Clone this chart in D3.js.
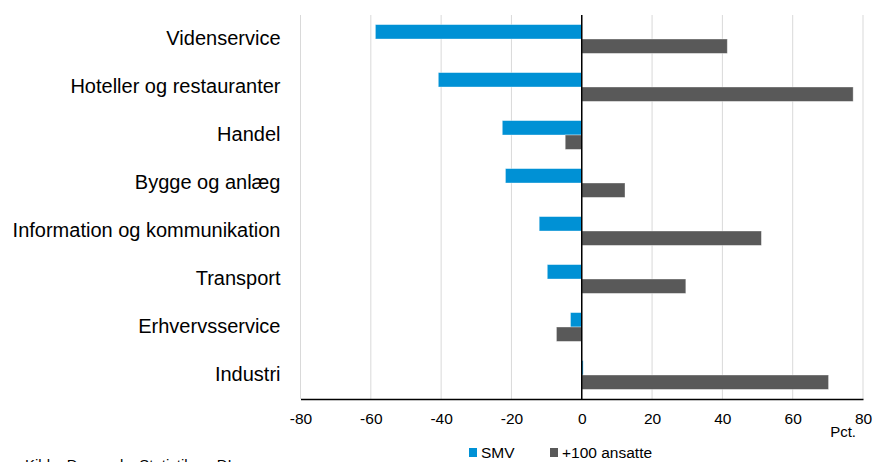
<!DOCTYPE html>
<html>
<head>
<meta charset="utf-8">
<script src="https://cdn.jsdelivr.net/npm/d3@7"></script>
<style>
  body { margin: 0; background: #fff; }
  text { font-family: "Liberation Sans", Arial, sans-serif; fill: #000; }
</style>
</head>
<body>
<svg width="874" height="462"></svg>
<script>
// categories top to bottom
var categories = ["Videnservice", "Hoteller og restauranter", "Handel", "Bygge og anlæg",
    "Information og kommunikation", "Transport", "Erhvervsservice", "Industri"];
var series = ["SMV", "+100 ansatte"];
var smv = [-58.7, -40.8, -22.6, -21.7, -12.1, -9.8, -3.2, 0.4];
var large = [41.4, 77.2, -4.7, 12.3, 51.1, 29.6, -7.2, 70.2];
var xTicks = [-80, -60, -40, -20, 0, 20, 40, 60, 80];
var colors = ["#0091d5", "#595959"];

var svg = d3.select("svg");
var margin = { top: 15, left: 300.5, right: 11, bottom: 63 };
var width = 874 - margin.left - margin.right;
var height = 462 - margin.top - margin.bottom;

var g = svg.append("g")
    .attr("transform", "translate(" + margin.left + "," + margin.top + ")");

var x = d3.scaleLinear().domain([-80, 80]).range([0, width]);
var y = d3.scaleBand().domain(categories).range([0, height]).paddingInner(0.4).paddingOuter(0.2);
var ySub = d3.scaleBand().domain(series).range([0, y.bandwidth()]);

// vertical gridlines
g.selectAll(".grid")
    .data(xTicks)
    .enter().append("line")
    .attr("x1", function(d) { return x(d); })
    .attr("x2", function(d) { return x(d); })
    .attr("y1", 0)
    .attr("y2", height)
    .attr("stroke", "#d9d9d9")
    .attr("stroke-width", 1);

// bars
var rows = categories.map(function(c, i) {
    return { cat: c, values: [smv[i], large[i]] };
});
var grp = g.selectAll(".row")
    .data(rows)
    .enter().append("g")
    .attr("transform", function(d) { return "translate(0," + y(d.cat) + ")"; });

grp.selectAll("rect")
    .data(function(d) { return d.values.map(function(v, j) { return { s: series[j], v: v, j: j }; }); })
    .enter().append("rect")
    .attr("x", function(d) { return x(Math.min(0, d.v)); })
    .attr("width", function(d) { return Math.abs(x(d.v) - x(0)); })
    .attr("y", function(d) { return ySub(d.s); })
    .attr("height", ySub.bandwidth())
    .attr("fill", function(d) { return colors[d.j]; })
    .attr("stroke", "#fff")
    .attr("stroke-opacity", 0.45)
    .attr("stroke-width", 0.8);

// zero line and bottom axis line
g.append("line")
    .attr("x1", x(0)).attr("x2", x(0))
    .attr("y1", 0).attr("y2", height)
    .attr("stroke", "#000").attr("stroke-width", 1.5);

var xAxis = g.append("g")
    .attr("transform", "translate(0," + height + ")")
    .call(d3.axisBottom(x).tickValues(xTicks).tickSize(0).tickPadding(14)
        .tickFormat(function(d) { return String(d); })); // plain hyphen minus
xAxis.select(".domain").attr("stroke", "#000").attr("stroke-width", 1.5);
xAxis.selectAll("text")
    .style("font-family", "Liberation Sans, Arial, sans-serif")
    .style("font-size", "15.5px")
    .attr("fill", "#000");

// category labels
g.selectAll(".cat")
    .data(categories)
    .enter().append("text")
    .attr("x", -20)
    .attr("y", function(d) { return y(d) + y.bandwidth() / 2 + 5.5; })
    .attr("text-anchor", "end")
    .style("font-size", "20px")
    .text(function(d) { return d; });

// unit label
svg.append("text")
    .attr("x", 856).attr("y", 437)
    .attr("text-anchor", "end")
    .style("font-size", "15px")
    .text("Pct.");

// legend
var legend = svg.append("g").attr("transform", "translate(469,447)");
var lx = [0, 81];
series.forEach(function(s, i) {
    legend.append("rect")
        .attr("x", lx[i]).attr("y", 1)
        .attr("width", 8).attr("height", 9)
        .attr("fill", colors[i]);
    legend.append("text")
        .attr("x", lx[i] + 12).attr("y", 11)
        .style("font-size", "15.5px")
        .text(s);
});

// source
svg.append("text")
    .attr("x", 25).attr("y", 470)
    .style("font-size", "15px")
    .text("Kilde: Danmarks Statistik og DI");
</script>
</body>
</html>
